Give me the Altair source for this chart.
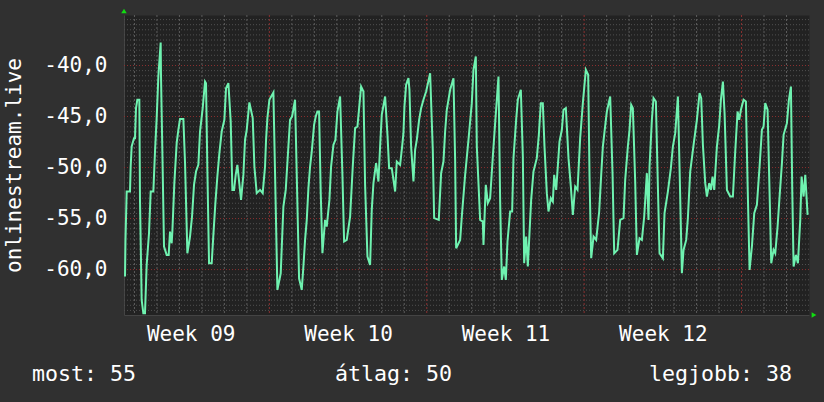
import altair as alt
import pandas as pd
import numpy as np

# time in days since the start of ISO week 09 (Monday 00:00)
t_days = [
    0.58, 0.60, 0.654, 0.802, 0.832, 0.876, 0.98, 1.024, 1.069, 1.128,
    1.217, 1.247, 1.321, 1.395, 1.469, 1.543, 1.647, 1.722, 1.840, 1.914,
    1.988, 2.063, 2.166, 2.181, 2.241, 2.315, 2.433, 2.522, 2.582, 2.656,
    2.686, 2.774, 2.878, 2.952, 3.027, 3.175, 3.249, 3.353, 3.471, 3.561,
    3.649, 3.738, 3.842, 3.916, 4.035, 4.139, 4.183, 4.243, 4.317, 4.435,
    4.510, 4.599, 4.687, 4.777, 4.880, 4.999, 5.073, 5.177, 5.281, 5.355,
    5.429, 5.503, 5.577, 5.741, 5.844, 5.918, 5.993, 6.111, 6.260, 6.334,
    6.437, 6.586, 6.704, 6.808, 6.853, 6.912, 7.001, 7.179, 7.253, 7.357,
    7.505, 7.624, 7.728, 7.846, 7.920, 8.010, 8.143, 8.321, 8.440,
    8.514, 8.588, 8.663, 8.737, 8.811, 8.885, 8.989, 9.063, 9.137, 9.211,
    9.285, 9.360, 9.478, 9.552, 9.671, 9.745, 9.849, 9.938, 10.027, 10.146,
    10.249, 10.324, 10.442, 10.591, 10.709, 10.813, 10.917, 11.006, 11.080, 11.184,
    11.258, 11.362, 11.480, 11.554, 11.629, 11.747, 11.851, 11.925, 11.999, 12.148,
    12.252, 12.326, 12.444, 12.593, 12.667, 12.815, 12.904, 12.963, 13.008, 13.082,
    13.186, 13.230, 13.304, 13.408, 13.482, 13.557, 13.660, 13.749, 13.853, 13.972,
    14.150, 14.268, 14.328, 14.535, 14.639, 14.743, 14.817, 14.891, 15.040, 15.188,
    15.262, 15.307, 15.485, 15.559, 15.707, 15.855, 16.003, 16.078, 16.182, 16.226,
    16.374, 16.493, 16.523, 16.626, 16.715, 16.819, 16.938, 17.042, 17.116, 17.190,
    17.264, 17.338, 17.442, 17.516, 17.590, 17.709, 17.798, 17.857, 17.976, 18.050,
    18.184, 18.273, 18.332, 18.421, 18.495, 18.569, 18.643, 18.747, 18.895, 18.985,
    19.073, 19.162, 19.236, 19.340, 19.414, 19.518, 19.607, 19.667, 19.756, 19.904,
    20.008, 20.082, 20.186, 20.304, 20.408, 20.497, 20.601, 20.705, 20.823, 20.942,
    21.075, 21.179, 21.239, 21.313, 21.417, 21.535, 21.669, 21.758, 21.832, 21.906,
    22.010, 22.158, 22.262, 22.336, 22.484, 22.603, 22.751, 22.825, 22.944, 23.018,
    23.092, 23.166, 23.270, 23.345, 23.463, 23.567, 23.671, 23.789, 23.863, 23.908,
    24.012, 24.086, 24.190, 24.279, 24.353, 24.501, 24.575, 24.724, 24.857, 24.946,
    25.050, 25.169, 25.243, 25.347, 25.421, 25.539, 25.613, 25.717, 25.866, 26.014,
    26.133, 26.207, 26.281, 26.385, 26.459, 26.563, 26.637, 26.711, 26.785, 26.904,
    27.008, 27.082, 27.171, 27.245, 27.349, 27.497, 27.616, 27.719, 27.823, 27.897,
    27.972, 28.090, 28.194, 28.268, 28.357, 28.461, 28.565, 28.683, 28.802, 28.906,
    28.980, 29.054, 29.158, 29.247, 29.321, 29.425, 29.499, 29.603, 29.692, 29.796,
    29.870, 30.018, 30.107, 30.196, 30.255, 30.315, 30.418, 30.507, 30.611, 30.670,
    30.760, 30.834, 30.938,
]

level = [
    -60.68, -57.25, -52.35, -52.35, -49.90, -47.94, -47.12, -47.12, -44.18, -43.36,
    -43.36, -53.33, -62.97, -64.28, -64.28, -59.54, -56.44, -52.35, -52.35, -48.43,
    -45.16, -41.08, -37.74, -41.08, -48.43, -57.74, -58.56, -58.56, -56.27, -57.42,
    -56.27, -51.53, -47.61, -46.30, -45.23, -45.23, -49.51, -58.40, -56.76, -54.80,
    -51.70, -50.39, -49.74, -46.47, -44.18, -41.57, -41.73, -50.23, -59.38, -59.38,
    -56.60, -53.49, -50.88, -48.59, -46.47, -45.32, -42.22, -41.73, -45.49, -52.19,
    -52.19, -50.72, -49.74, -53.17, -50.72, -47.28, -46.30, -43.62, -45.16, -49.90,
    -52.51, -52.19, -52.51, -49.90, -47.28, -45.16, -43.36, -42.64, -50.55, -61.99,
    -60.36, -53.82, -52.19, -47.94, -45.32, -45.00, -43.36, -60.85, -61.99,
    -59.70, -57.09, -55.13, -52.02, -49.90, -48.43, -45.81, -45.00, -44.51, -44.51,
    -52.51, -58.40, -55.13, -55.78, -53.17, -49.90, -47.77, -47.28, -44.51, -43.04,
    -50.72, -57.25, -57.09, -54.80, -49.90, -46.14, -45.98, -43.85, -42.06, -42.55,
    -51.70, -58.72, -59.54, -54.15, -51.53, -49.57, -51.37, -47.94, -44.83, -43.04,
    -46.79, -50.06, -50.06, -52.35, -49.41, -49.74, -47.94, -46.63, -44.02, -41.89,
    -41.24, -42.38, -47.94, -51.37, -48.27, -47.28, -45.32, -44.18, -43.36, -42.55,
    -40.75, -48.27, -54.96, -55.13, -50.55, -49.41, -46.47, -44.34, -42.38, -41.24,
    -49.25, -57.91, -57.09, -54.80, -50.72, -47.28, -43.69, -40.42, -39.11, -47.94,
    -55.13, -55.29, -57.58, -51.70, -53.49, -53.00, -48.92, -45.65, -43.36, -41.08,
    -53.33, -61.01, -59.70, -61.01, -57.25, -54.31, -54.31, -49.08, -45.32, -43.36,
    -42.38, -48.92, -59.38, -56.76, -59.70, -56.44, -53.17, -50.39, -49.08, -46.79,
    -43.69, -43.69, -47.94, -52.51, -54.31, -53.00, -53.33, -50.72, -52.19, -47.45,
    -46.30, -44.34, -44.18, -49.08, -51.86, -54.64, -51.86, -52.19, -47.12, -43.69,
    -40.42, -40.91, -50.88, -58.89, -56.76, -57.09, -54.31, -50.72, -47.94, -46.47,
    -44.51, -43.04, -50.55, -58.40, -58.07, -55.13, -54.96, -51.21, -47.94, -46.30,
    -43.85, -44.18, -51.37, -58.56, -56.93, -57.09, -54.80, -50.55, -55.13, -49.90,
    -45.32, -43.20, -43.53, -51.86, -58.40, -58.89, -54.47, -52.35, -50.06, -47.94,
    -46.63, -43.04, -50.06, -60.36, -58.07, -57.09, -54.96, -50.39, -47.77, -45.32,
    -42.71, -43.20, -47.77, -51.53, -52.84, -51.53, -52.19, -50.88, -52.19, -47.94,
    -45.81, -43.36, -41.57, -44.67, -52.19, -52.84, -52.84, -48.43, -44.51, -45.32,
    -44.34, -43.36, -43.53, -51.53, -60.03, -57.74, -54.47, -53.66, -49.90, -46.30,
    -45.98, -43.69, -44.34, -52.51, -59.38, -58.07, -58.40, -55.78, -52.84, -49.57,
    -46.79, -45.65, -43.36, -42.06, -52.19, -59.70, -58.56, -59.38, -55.13, -50.88,
    -52.84, -50.72, -54.64,
]
assert len(t_days) == len(level), (len(t_days), len(level))

week_mid = [3.5, 10.5, 17.5, 24.5]
week_labels = ["Week 09", "Week 10", "Week 11", "Week 12"]
y_ticks = [-60, -55, -50, -45, -40]
y_tick_labels = ["-60,0", "-55,0", "-50,0", "-45,0", "-40,0"]
y_title = "onlinestream.live"
summary_texts = ["most: 55", "átlag: 50", "legjobb: 38"]

x_domain = [0.535, 31.0]
y_domain = [-64.45, -35.05]

FONT = "DejaVu Sans Mono"
BG = "#303030"
PLOT_BG = "#222222"
LINE = "#6ff2b0"
GRID_H = "#505050"
GRID_V = "#5c5c5c"
MGRID = "#8a3030"
ARROW = "#11dd11"

xs = alt.Scale(domain=x_domain, nice=False, zero=False)
ys = alt.Scale(domain=y_domain, nice=False, zero=False)


def ternary(values, labels):
    expr = "''"
    for v, l in zip(reversed(values), reversed(labels)):
        expr = f"(abs(datum.value - ({v})) < 0.01 ? '{l}' : {expr})"
    return expr


x_axis = alt.Axis(
    values=week_mid,
    labelExpr=ternary(week_mid, week_labels),
    grid=False,
    ticks=False,
    domain=True,
    domainColor="#444444",
    labelFont=FONT,
    labelFontSize=21,
    labelColor="#ffffff",
    labelPadding=8,
    labelFlush=False,
    labelOverlap=False,
    title=None,
)

y_axis = alt.Axis(
    values=y_ticks,
    labelExpr=ternary(y_ticks, y_tick_labels),
    grid=False,
    ticks=False,
    domain=True,
    domainColor="#444444",
    labelFont=FONT,
    labelFontSize=21,
    labelColor="#ffffff",
    labelPadding=17,
    labelBaseline="middle",
    labelFlush=False,
    labelOverlap=False,
    title=y_title,
    titleFont=FONT,
    titleFontSize=21,
    titleFontWeight="normal",
    titleColor="#ffffff",
    titleX=-110,
    titleY=150,
    titleAngle=-90,
    titleBaseline="middle",
    titleAlign="center",
)

df = pd.DataFrame({"t": t_days, "v": level})

minor_h = [v for v in np.arange(-64.0, -35.0, 0.5) if abs(v % 5) > 1e-9]
major_h = y_ticks
minor_v = [d for d in range(1, 31) if d % 7 != 0]
major_v = [7, 14, 21, 28]

g_minor_h = alt.Chart(pd.DataFrame({"v": minor_h})).mark_rule(
    color=GRID_H, strokeWidth=1, strokeDash=[1, 2]
).encode(y=alt.Y("v:Q", scale=ys, axis=y_axis))

g_minor_v = alt.Chart(pd.DataFrame({"t": minor_v})).mark_rule(
    color=GRID_V, strokeWidth=1, strokeDash=[2, 2]
).encode(x=alt.X("t:Q", scale=xs, axis=x_axis))

g_major_h = alt.Chart(pd.DataFrame({"v": major_h})).mark_rule(
    color=MGRID, strokeWidth=1, strokeDash=[1, 2]
).encode(y=alt.Y("v:Q", scale=ys, axis=y_axis))

g_major_v = alt.Chart(pd.DataFrame({"t": major_v})).mark_rule(
    color=MGRID, strokeWidth=1, strokeDash=[2, 2]
).encode(x=alt.X("t:Q", scale=xs, axis=x_axis))

line = alt.Chart(df).mark_line(color=LINE, strokeWidth=2, clip=True).encode(
    x=alt.X("t:Q", scale=xs, axis=x_axis),
    y=alt.Y("v:Q", scale=ys, axis=y_axis),
)

arrow_up = alt.Chart(pd.DataFrame({"a": [0]})).mark_point(
    shape="triangle-up", filled=True, size=30, color=ARROW, opacity=1
).encode(x=alt.value(0), y=alt.value(-4))

arrow_right = alt.Chart(pd.DataFrame({"a": [0]})).mark_point(
    shape="triangle-right", filled=True, size=30, color=ARROW, opacity=1
).encode(x=alt.value(690), y=alt.value(300))

txt_props = dict(font=FONT, fontSize=21.6, color="#ffffff", baseline="middle")
s_left = alt.Chart(pd.DataFrame({"s": [summary_texts[0]]})).mark_text(
    align="left", **txt_props
).encode(text="s:N", x=alt.value(-92), y=alt.value(360))
s_mid = alt.Chart(pd.DataFrame({"s": [summary_texts[1]]})).mark_text(
    align="center", **txt_props
).encode(text="s:N", x=alt.value(269.5), y=alt.value(360))
s_right = alt.Chart(pd.DataFrame({"s": [summary_texts[2]]})).mark_text(
    align="right", **txt_props
).encode(text="s:N", x=alt.value(668), y=alt.value(360))

chart = (
    alt.layer(
        g_minor_h, g_minor_v, g_major_h, g_major_v, line,
        arrow_up, arrow_right, s_left, s_mid, s_right,
    )
    .properties(
        width=685,
        height=300,
        autosize=alt.AutoSizeParams(type="none"),
        padding={"left": 124, "top": 15, "right": 15, "bottom": 87},
        background=BG,
    )
    .configure_view(fill=PLOT_BG, stroke="transparent")
)

try:
    from altair.utils.html import TEMPLATES as _T

    class _Tpl:
        def __init__(self, base):
            self.base = base

        def render(self, **kw):
            html = self.base.render(**kw)
            css = ("<style>html,body{margin:0;padding:0;background:%s;"
                   "overflow:hidden}</style>" % BG)
            if "<head>" in html:
                return html.replace("<head>", "<head>" + css, 1)
            return css + html

    chart.save("out.html", embed_options={"renderer": "svg", "actions": False},
               template=_Tpl(_T["standard"]))
except Exception:
    chart.save("out.html", embed_options={"renderer": "svg", "actions": False})
